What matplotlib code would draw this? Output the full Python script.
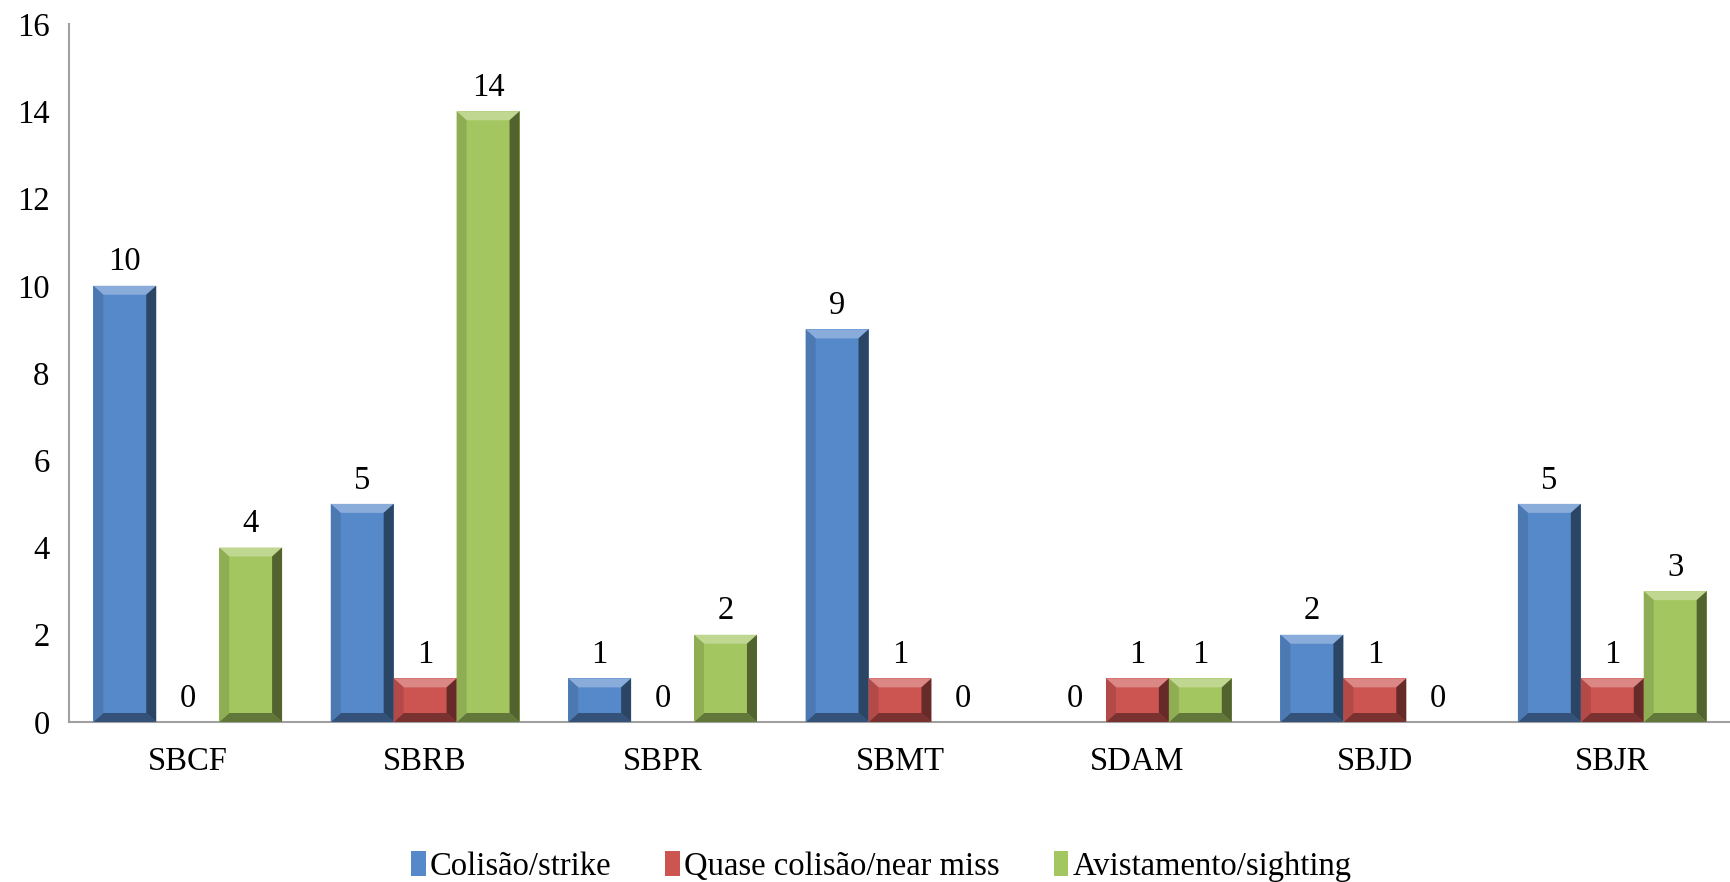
import numpy as np
import matplotlib.pyplot as plt
from matplotlib.patches import Polygon
from matplotlib.colors import to_rgb

plt.rcParams['font.family'] = ['Liberation Serif', 'DejaVu Serif']

categories = ['SBCF', 'SBRB', 'SBPR', 'SBMT', 'SDAM', 'SBJD', 'SBJR']
colisao = [10, 5, 1, 9, 0, 2, 5]
quase = [0, 1, 0, 1, 1, 1, 1]
avist = [4, 14, 2, 0, 1, 0, 3]
series = [colisao, quase, avist]
labels = ['Colisão/strike', 'Quase colisão/near miss', 'Avistamento/sighting']
colors = ['#5689CA', '#CC5451', '#A3C660']

fig = plt.figure(figsize=(17.31, 8.82), dpi=100)
ax = fig.add_axes([69 / 1731, 1 - 722 / 882, (1731 - 69) / 1731, (722 - 24) / 882])

x = np.arange(len(categories))
w = 0.265
bars_all = []
for i, (vals, lab, col) in enumerate(zip(series, labels, colors)):
    bars = ax.bar(x + (i - 1) * w, vals, width=w, color=col, label=lab,
                  edgecolor='none', zorder=2)
    bars_all.append((bars, col))
    for b, v in zip(bars, vals):
        ax.annotate(str(v), (b.get_x() + b.get_width() / 2, v),
                    xytext=(0, 6), textcoords='offset points',
                    ha='center', va='bottom', fontsize=23.5)

ax.set_xlim(-0.5, len(categories) - 0.5)
ax.set_ylim(0, 16)
ax.set_yticks(range(0, 17, 2))
ax.set_xticks(x)
ax.set_xticklabels(categories)
ax.tick_params(axis='both', length=0, labelsize=23.5)
ax.tick_params(axis='x', pad=18)
ax.tick_params(axis='y', pad=14)
for s in ['top', 'right']:
    ax.spines[s].set_visible(False)
for s in ['left', 'bottom']:
    ax.spines[s].set_color('#A0A0A0')
    ax.spines[s].set_linewidth(1.5)

# bevel shading on bars
fig.canvas.draw()


def shade(c, f):
    r = np.array(to_rgb(c))
    return tuple(np.clip(r * f if f < 1 else r + (1 - r) * (f - 1), 0, 1))


for bars, col in bars_all:
    for b in bars:
        if b.get_height() <= 0:
            continue
        (x0, y0), (x1, y1) = ax.transData.transform(
            [(b.get_x(), 0), (b.get_x() + b.get_width(), b.get_height())])
        bv = min(10, (x1 - x0) / 3)
        bh = min(9, (y1 - y0) / 3)
        top = [(x0, y1), (x1, y1), (x1 - bv, y1 - bh), (x0 + bv, y1 - bh)]
        bot = [(x0, y0), (x1, y0), (x1 - bv, y0 + bh), (x0 + bv, y0 + bh)]
        left = [(x0, y0), (x0 + bv, y0 + bh), (x0 + bv, y1 - bh), (x0, y1)]
        right = [(x1, y0), (x1 - bv, y0 + bh), (x1 - bv, y1 - bh), (x1, y1)]
        for pts, f in [(top, 1.3), (bot, 0.6), (left, 0.88), (right, 0.5)]:
            fig.patches.append(Polygon(pts, closed=True, transform=None,
                                       facecolor=shade(col, f), edgecolor='none',
                                       zorder=3, figure=fig))

fig.legend(*ax.get_legend_handles_labels(), loc='lower center',
           bbox_to_anchor=(0.509, -0.033),
           ncol=3, frameon=False, fontsize=23.5, handlelength=0.45,
           handleheight=0.8, handletextpad=0.12, columnspacing=1.66)

fig.savefig('out.png', dpi=100)
